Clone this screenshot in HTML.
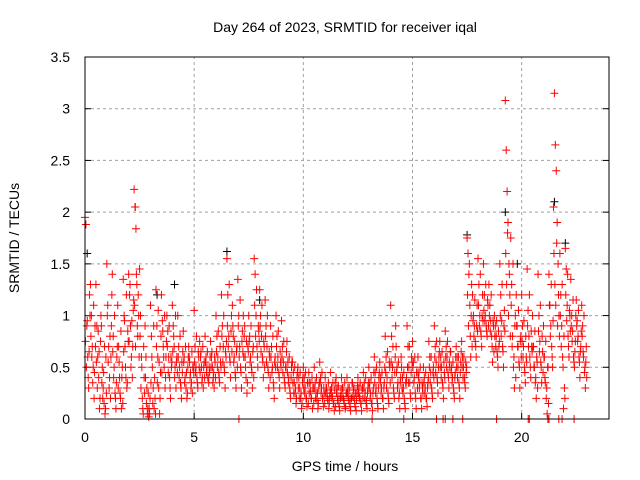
<!DOCTYPE html>
<html><head><meta charset="utf-8"><style>
body{margin:0;background:#fff}
svg{display:block;font-family:"Liberation Sans",sans-serif}
</style></head><body>
<svg id="chart" width="640" height="480">
<text x="345" y="32" text-anchor="middle" font-size="14">Day 264 of 2023, SRMTID for receiver iqal</text>
<text x="345" y="471" text-anchor="middle" font-size="14">GPS time / hours</text>
<text transform="translate(19,238) rotate(-90)" text-anchor="middle" font-size="14">SRMTID / TECUs</text>
<g id="grid"></g>
<g id="axes"></g>
<g id="black"></g>
<g id="red"></g>
<rect x="85" y="57" width="524" height="362" fill="none" stroke="#000" stroke-width="1"/>
</svg>
<script>
const xTicks=[0,5,10,15,20];
const yTicks=[0,0.5,1,1.5,2,2.5,3,3.5];
const yTickLabels=["0","0.5","1","1.5","2","2.5","3","3.5"];
const slotStart=0, slotWidth=0.25;
const redSlots=[
[1.95,1.88,0.9,0.6,0.3,1.2],[1.3,1.0,0.7,0.5,0.2,0.9],[1.3,0.9,0.6,0.4,0.1,0.75],[0.9,0.5,0.3,0.15,0.05,0.6],
[1.5,1.1,0.7,0.4,0.2,0.9],[1.4,0.8,0.5,0.25,0.1,0.6],[1.1,0.7,0.4,0.2,0.1,0.5],[1.35,1.0,0.7,0.4,0.3,0.85],
[1.4,1.2,0.9,0.6,0.4,1.05],[2.22,2.05,1.84,1.3,0.8,1.0],[1.45,1.0,0.6,0.2,0.05,0.4],[0.9,0.6,0.3,0.1,0.02,0.05],
[1.1,0.8,0.5,0.3,0.1,0.2],[1.25,0.9,0.6,0.3,0.05,0.45],[1.2,0.95,0.7,0.5,0.3,0.6],[1.0,0.85,0.6,0.4,0.2,0.5],
[1.1,0.9,0.7,0.5,0.3,0.6],[1.0,0.7,0.5,0.35,0.2,0.45],[0.85,0.6,0.4,0.3,0.2,0.5],[0.7,0.55,0.45,0.35,0.25,0.5],
[1.05,0.7,0.5,0.4,0.3,0.6],[0.75,0.6,0.5,0.4,0.3,0.55],[0.8,0.6,0.5,0.4,0.35,0.45],[0.75,0.6,0.5,0.4,0.3,0.55],
[1.0,0.8,0.6,0.45,0.35,0.55],[1.2,0.9,0.7,0.5,0.3,0.6],[1.55,1.2,0.8,0.6,0.4,1.0],[1.1,0.8,0.6,0.45,0.3,0.7],
[1.35,1.0,0.7,0.5,0.3,0.85],[1.0,0.8,0.6,0.4,0.25,0.7],[1.0,0.8,0.6,0.5,0.3,0.7],[1.55,1.4,1.0,0.7,0.5,0.85],
[1.25,1.0,0.8,0.6,0.4,0.7],[1.15,0.9,0.7,0.5,0.3,0.6],[0.9,0.7,0.5,0.35,0.2,0.6],[1.0,0.8,0.6,0.45,0.3,0.55],
[0.95,0.7,0.55,0.4,0.3,0.5],[0.75,0.55,0.4,0.3,0.2,0.5],[0.55,0.45,0.35,0.25,0.15,0.4],[0.5,0.4,0.3,0.2,0.1,0.35],
[0.5,0.4,0.3,0.2,0.12,0.35],[0.45,0.35,0.27,0.2,0.1,0.3],[0.5,0.35,0.25,0.18,0.1,0.3],[0.55,0.4,0.3,0.2,0.12,0.25],
[0.4,0.3,0.25,0.18,0.1,0.22],[0.45,0.3,0.22,0.15,0.08,0.35],[0.4,0.3,0.22,0.15,0.08,0.2],[0.4,0.3,0.2,0.15,0.1,0.25],
[0.4,0.3,0.22,0.15,0.08,0.2],[0.35,0.28,0.2,0.12,0.08,0.25],[0.4,0.3,0.22,0.15,0.08,0.3],[0.45,0.35,0.25,0.15,0.1,0.3],
[0.5,0.35,0.25,0.15,0.08,0.3],[0.6,0.45,0.3,0.2,0.1,0.4],[0.55,0.4,0.3,0.2,0.1,0.35],[0.8,0.6,0.4,0.25,0.15,0.5],
[1.1,0.8,0.5,0.3,0.2,0.6],[0.7,0.5,0.35,0.2,0.1,0.4],[0.5,0.4,0.3,0.2,0.1,0.35],[0.9,0.7,0.5,0.35,0.2,0.6],
[0.75,0.55,0.4,0.25,0.1,0.45],[0.6,0.45,0.35,0.2,0.1,0.3],[0.5,0.4,0.3,0.2,0.12,0.35],[0.75,0.6,0.45,0.3,0.2,0.5],
[0.9,0.7,0.55,0.4,0.25,0.6],[0.75,0.6,0.5,0.35,0.2,0.45],[0.85,0.7,0.6,0.45,0.3,0.5],[0.65,0.5,0.4,0.3,0.2,0.45],
[0.7,0.6,0.5,0.35,0.2,0.55],[0.75,0.6,0.5,0.4,0.3,0.45],[1.75,1.6,1.4,1.1,0.6,1.3],[1.2,1.0,0.9,0.75,0.6,1.1],
[1.55,1.3,1.0,0.85,0.7,1.2],[1.5,1.2,1.0,0.9,0.8,1.1],[1.3,1.1,0.95,0.8,0.55,0.9],[1.0,0.9,0.8,0.65,0.5,0.7],
[1.5,1.2,0.95,0.7,0.5,1.05],[3.08,2.6,2.2,1.9,1.5,1.2],[1.75,1.3,0.8,0.5,0.3,1.0],[1.2,0.9,0.7,0.55,0.3,0.8],
[1.2,0.9,0.7,0.5,0.35,0.6],[1.45,1.05,0.8,0.6,0.4,0.7],[1.0,0.7,0.5,0.35,0.2,0.55],[1.4,1.0,0.75,0.55,0.35,0.65],
[0.9,0.6,0.35,0.2,0.05,0.5],[1.4,1.1,0.9,0.7,0.5,2.05],[3.15,2.65,2.4,1.9,1.5,1.0],[1.6,1.2,0.9,0.6,0.1,0.3],
[1.65,1.45,1.1,0.8,0.6,1.0],[1.35,1.0,0.85,0.6,0.5,0.75],[1.15,0.95,0.8,0.6,0.4,0.7],[1.1,0.9,0.6,0.45,0.3,0.7]
];
const redSlots2=[
[0.75,0.5,0.95,0.4,0.65,1.0],[0.8,0.6,0.35,1.1,0.45,0.7],[0.55,0.3,0.85,0.65,0.2,1.0],[0.35,0.2,0.45,0.7,0.1,0.25],
[1.0,0.55,0.3,0.8,0.6,1.2],[0.65,0.4,1.0,0.2,0.35,0.7],[0.3,0.55,0.25,0.85,0.4,0.15],[0.65,0.95,0.5,1.2,0.35,0.75],
[0.75,1.3,0.5,0.95,0.7,1.15],[1.1,0.7,1.4,0.9,1.2,0.6],[0.8,0.3,0.5,0.1,0.7,0.25],[0.4,0.15,0.05,0.25,0.1,0.2],
[0.35,0.6,0.15,0.9,0.4,0.05],[0.7,0.35,1.05,0.55,0.2,0.8],[0.45,0.85,0.6,1.0,0.4,0.75],[0.7,0.45,0.9,0.3,0.6,0.55],
[0.65,0.8,0.4,1.0,0.55,0.45],[0.6,0.4,0.8,0.3,0.55,0.65],[0.55,0.35,0.7,0.45,0.25,0.6],[0.6,0.4,0.3,0.65,0.5,0.45],
[0.55,0.45,0.8,0.35,0.65,0.5],[0.45,0.65,0.35,0.7,0.5,0.4],[0.55,0.45,0.65,0.4,0.5,0.6],[0.5,0.65,0.35,0.45,0.6,0.4],
[0.65,0.5,0.85,0.4,0.7,0.5],[0.8,0.55,1.0,0.45,0.65,0.75],[0.9,0.7,1.3,0.55,0.85,0.65],[0.9,0.55,0.75,0.4,0.65,0.5],
[0.9,0.6,1.15,0.45,0.75,0.65],[0.6,0.9,0.5,0.75,0.35,0.65],[0.75,0.55,0.9,0.45,0.65,0.4],[1.1,0.8,1.25,0.6,0.9,0.75],
[0.9,0.65,1.1,0.55,0.75,0.5],[0.8,0.55,1.0,0.45,0.65,0.4],[0.6,0.45,0.8,0.3,0.55,0.5],[0.7,0.5,0.85,0.4,0.65,0.5],
[0.6,0.45,0.75,0.35,0.5,0.65],[0.45,0.35,0.6,0.25,0.4,0.55],[0.35,0.25,0.5,0.3,0.2,0.45],[0.3,0.2,0.45,0.25,0.15,0.4],
[0.3,0.25,0.45,0.2,0.35,0.15],[0.25,0.35,0.2,0.4,0.3,0.15],[0.3,0.2,0.4,0.25,0.15,0.35],[0.35,0.25,0.45,0.2,0.3,0.15],
[0.25,0.3,0.2,0.35,0.15,0.28],[0.25,0.2,0.35,0.15,0.28,0.12],[0.25,0.18,0.32,0.12,0.22,0.28],[0.22,0.3,0.18,0.35,0.12,0.25],
[0.25,0.18,0.3,0.12,0.2,0.35],[0.22,0.3,0.15,0.25,0.18,0.32],[0.25,0.2,0.35,0.15,0.28,0.2],[0.3,0.2,0.4,0.18,0.25,0.35],
[0.3,0.2,0.4,0.15,0.25,0.45],[0.35,0.25,0.5,0.15,0.3,0.45],[0.35,0.25,0.45,0.2,0.3,0.5],[0.45,0.3,0.65,0.2,0.55,0.35],
[0.55,0.4,0.7,0.25,0.45,0.9],[0.45,0.3,0.55,0.25,0.35,0.6],[0.3,0.25,0.45,0.15,0.35,0.4],[0.5,0.35,0.7,0.25,0.45,0.55],
[0.5,0.35,0.6,0.2,0.45,0.3],[0.4,0.3,0.5,0.2,0.35,0.25],[0.35,0.25,0.45,0.2,0.3,0.4],[0.5,0.35,0.6,0.25,0.45,0.4],
[0.6,0.45,0.75,0.35,0.5,0.65],[0.5,0.4,0.65,0.3,0.55,0.4],[0.6,0.5,0.75,0.4,0.55,0.65],[0.45,0.35,0.55,0.25,0.4,0.6],
[0.5,0.4,0.6,0.3,0.45,0.65],[0.5,0.4,0.6,0.35,0.55,0.5],[1.2,0.9,1.5,0.8,1.0,0.7],[0.95,0.8,1.15,0.7,0.9,0.85],
[1.1,0.9,1.4,0.8,1.0,0.95],[1.05,0.95,1.3,0.85,1.15,0.9],[1.0,0.85,1.2,0.7,0.95,0.65],[0.8,0.7,0.95,0.6,0.85,0.75],
[1.0,0.8,1.3,0.65,0.9,0.85],[1.6,1.3,1.8,1.0,1.4,0.8],[1.1,0.7,1.5,0.6,0.9,0.4],[0.9,0.7,1.05,0.5,0.75,0.6],
[0.75,0.6,0.95,0.45,0.8,0.55],[0.9,0.7,1.2,0.5,0.85,0.65],[0.7,0.5,0.85,0.4,0.6,0.3],[0.85,0.65,1.1,0.5,0.8,0.45],
[0.6,0.4,0.75,0.3,0.5,0.15],[1.1,0.8,1.3,0.6,0.95,1.6],[1.3,1.1,1.7,0.9,1.2,0.8],[1.0,0.7,1.3,0.5,0.8,0.2],
[1.2,0.95,1.4,0.7,1.05,0.85],[0.9,0.75,1.15,0.55,0.65,1.0],[0.9,0.75,1.05,0.55,0.65,0.85],[0.8,0.65,1.0,0.5,0.55,0.4]
];
const zeroTimes=[7.05,13.15,14.6,16.1,16.4,16.5,16.85,17.3,18.85,20.3,20.35,21.2,21.25,21.7,21.85,22.4];
const blackTimes=[0.1,2.3,3.3,4.1,6.5,8.0,17.5,19.25,19.8,21.5,22.0];
const blackValues=[1.6,2.05,1.2,1.3,1.62,1.15,1.78,2.0,1.5,2.1,1.7];
const X0=85,X1=609,Y0=419,Y1=57,XMAX=24,YMAX=3.5;
const sx=v=>X0+(X1-X0)*v/XMAX, sy=v=>Y0-(Y0-Y1)*v/YMAX;
const NS="http://www.w3.org/2000/svg";
function mk(tag,attrs,parent){const e=document.createElementNS(NS,tag);for(const k in attrs)e.setAttribute(k,attrs[k]);parent.appendChild(e);return e;}
const grid=document.getElementById('grid'),axes=document.getElementById('axes');
xTicks.forEach(t=>{const x=sx(t);
 if(t>0){const g=mk('line',{x1:x,x2:x,y1:Y0,y2:Y1,stroke:'#a0a0a0','stroke-dasharray':'3,3'},grid);}
 const tk=mk('line',{x1:x,x2:x,y1:Y0,y2:Y0-6,stroke:'#000'},axes);
 const l=mk('text',{x:x,y:Y0+23,'text-anchor':'middle','font-size':'14'},axes);l.textContent=String(t);
 
 });
yTicks.forEach((t,i)=>{const y=sy(t);
 if(t>0&&t<YMAX){const g=mk('line',{x1:X0,x2:X1,y1:y,y2:y,stroke:'#a0a0a0','stroke-dasharray':'3,3'},grid);}
 const tk=mk('line',{x1:X0,x2:X0+6,y1:y,y2:y,stroke:'#000'},axes);
 const tk2=mk('line',{x1:X1,x2:X1-6,y1:y,y2:y,stroke:'#000'},axes);
 const l=mk('text',{x:X0-15,y:y+5,'text-anchor':'end','font-size':'14'},axes);l.textContent=yTickLabels[i];
 
 });
function plus(parent,t,v,color,name){const x=sx(t),y=sy(v);
 const p=mk('path',{d:`M${x-4} ${y}h8M${x} ${y-4}v8`,stroke:color,'stroke-width':'1',fill:'none'},parent);
 
 }
const black=document.getElementById('black'),red=document.getElementById('red');
blackTimes.forEach((t,i)=>plus(black,t,blackValues[i],'#000','black-point'));
redSlots.forEach((vals,i)=>vals.forEach((v,j)=>plus(red,slotStart+slotWidth*(i+j/vals.length),v,'#f00','red-point')));
redSlots2.forEach((vals,i)=>vals.forEach((v,j)=>plus(red,slotStart+slotWidth*(i+(j+0.5)/vals.length),v,'#f00','red-point')));
zeroTimes.forEach(t=>plus(red,t,0,'#f00','red-zero-point'));
</script>
</body></html>
